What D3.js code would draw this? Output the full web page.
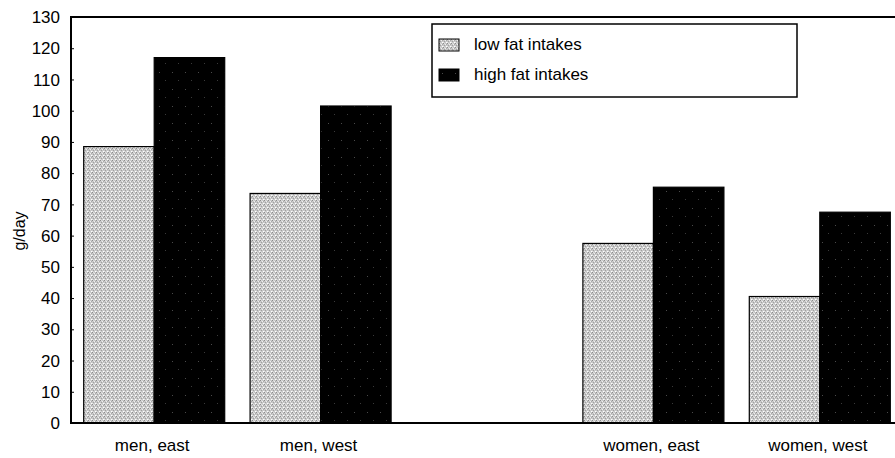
<!DOCTYPE html>
<html>
<head>
<meta charset="utf-8">
<script src="https://cdn.jsdelivr.net/npm/d3@7"></script>
<style>
  body { margin: 0; background: #fff; }
  svg { display: block; font-family: "Liberation Sans", Arial, sans-serif; }
</style>
</head>
<body>
<svg id="chart" width="895" height="458"></svg>
<script>
// slots along the x axis (one left empty between men and women)
const groups = ["men, east", "men, west", "", "women, east", "women, west"];
const series = ["low fat intakes", "high fat intakes"];
const lowFat = [88.5, 73.5, null, 57.5, 40.5];
const highFat = [117, 101.5, null, 75.5, 67.5];
const yTicks = d3.range(0, 131, 10);

const svg = d3.select("#chart");
const plotL = 71, plotR = 903, plotT = 17, plotB = 423;

// textures for the bars
const defs = svg.append("defs");
const light = defs.append("pattern")
  .attr("id", "light").attr("patternUnits", "userSpaceOnUse")
  .attr("width", 4).attr("height", 4);
light.append("rect").attr("width", 4).attr("height", 4).attr("fill", "#c8c8c8");
[[0, 0, "#8c8c8c"], [2, 1, "#f0f0f0"], [1, 2, "#a0a0a0"], [3, 3, "#ffffff"], [3, 1, "#aaaaaa"], [0, 3, "#e4e4e4"], [1, 0, "#dcdcdc"]]
  .forEach(([px, py, c]) => light.append("rect").attr("x", px).attr("y", py)
    .attr("width", 1).attr("height", 1).attr("fill", c));

const dark = defs.append("pattern")
  .attr("id", "dark").attr("patternUnits", "userSpaceOnUse")
  .attr("width", 13).attr("height", 17);
dark.append("rect").attr("width", 13).attr("height", 17).attr("fill", "#000");
dark.append("rect").attr("x", 3).attr("y", 4).attr("width", 1).attr("height", 1).attr("fill", "#4a4a4a");
dark.append("rect").attr("x", 9).attr("y", 12).attr("width", 1).attr("height", 1).attr("fill", "#3a3a3a");

const x = d3.scaleBand().domain(d3.range(groups.length)).range([plotL, plotR]);
const xs = d3.scaleBand().domain(series).range([0, x.bandwidth()]).paddingOuter(0.18);
const y = d3.scaleLinear().domain([0, 130]).range([plotB, plotT]);

// bars
const rows = groups.map((g, i) => ({ i, vals: [lowFat[i], highFat[i]] }))
  .filter(d => d.vals[0] != null);
const fills = ["url(#light)", "url(#dark)"];
rows.forEach(r => {
  r.vals.forEach((v, k) => {
    svg.append("rect")
      .attr("x", x(r.i) + xs(series[k]))
      .attr("y", y(v))
      .attr("width", xs.bandwidth())
      .attr("height", y(0) - y(v))
      .attr("fill", fills[k])
      .attr("stroke", "#000")
      .attr("stroke-width", 1.2);
  });
});

// frame
svg.append("rect")
  .attr("x", plotL).attr("y", plotT)
  .attr("width", plotR - plotL).attr("height", plotB - plotT)
  .attr("fill", "none").attr("stroke", "#000").attr("stroke-width", 2);

// y axis
const yAxis = svg.append("g")
  .attr("transform", `translate(${plotL},0)`)
  .call(d3.axisRight(y).tickValues(yTicks).tickSize(3).tickFormat(""));
yAxis.select(".domain").remove();

svg.append("g").selectAll("text")
  .data(yTicks).enter().append("text")
  .attr("x", 60).attr("y", d => y(d)).attr("dy", "0.36em")
  .attr("text-anchor", "end").attr("font-size", "17px")
  .text(d => d);

svg.append("text")
  .attr("transform", "translate(25,231) rotate(-90)")
  .attr("text-anchor", "middle").attr("font-size", "16px")
  .text("g/day");

// x labels
svg.append("g").selectAll("text")
  .data(rows).enter().append("text")
  .attr("x", d => x(d.i) + x.bandwidth() / 2 - 2)
  .attr("y", 451)
  .attr("text-anchor", "middle").attr("font-size", "17px")
  .text(d => groups[d.i]);

// legend
const legend = svg.append("g").attr("transform", "translate(432,24)");
legend.append("rect").attr("width", 365).attr("height", 73)
  .attr("fill", "#fff").attr("stroke", "#000").attr("stroke-width", 1.5);
series.forEach((s, k) => {
  const row = legend.append("g").attr("transform", `translate(7,${15 + k * 30})`);
  row.append("rect").attr("width", 20).attr("height", 12)
    .attr("fill", fills[k]).attr("stroke", "#000");
  row.append("text").attr("x", 35).attr("y", 5).attr("dy", "0.36em")
    .attr("font-size", "17px").text(s);
});
</script>
</body>
</html>
